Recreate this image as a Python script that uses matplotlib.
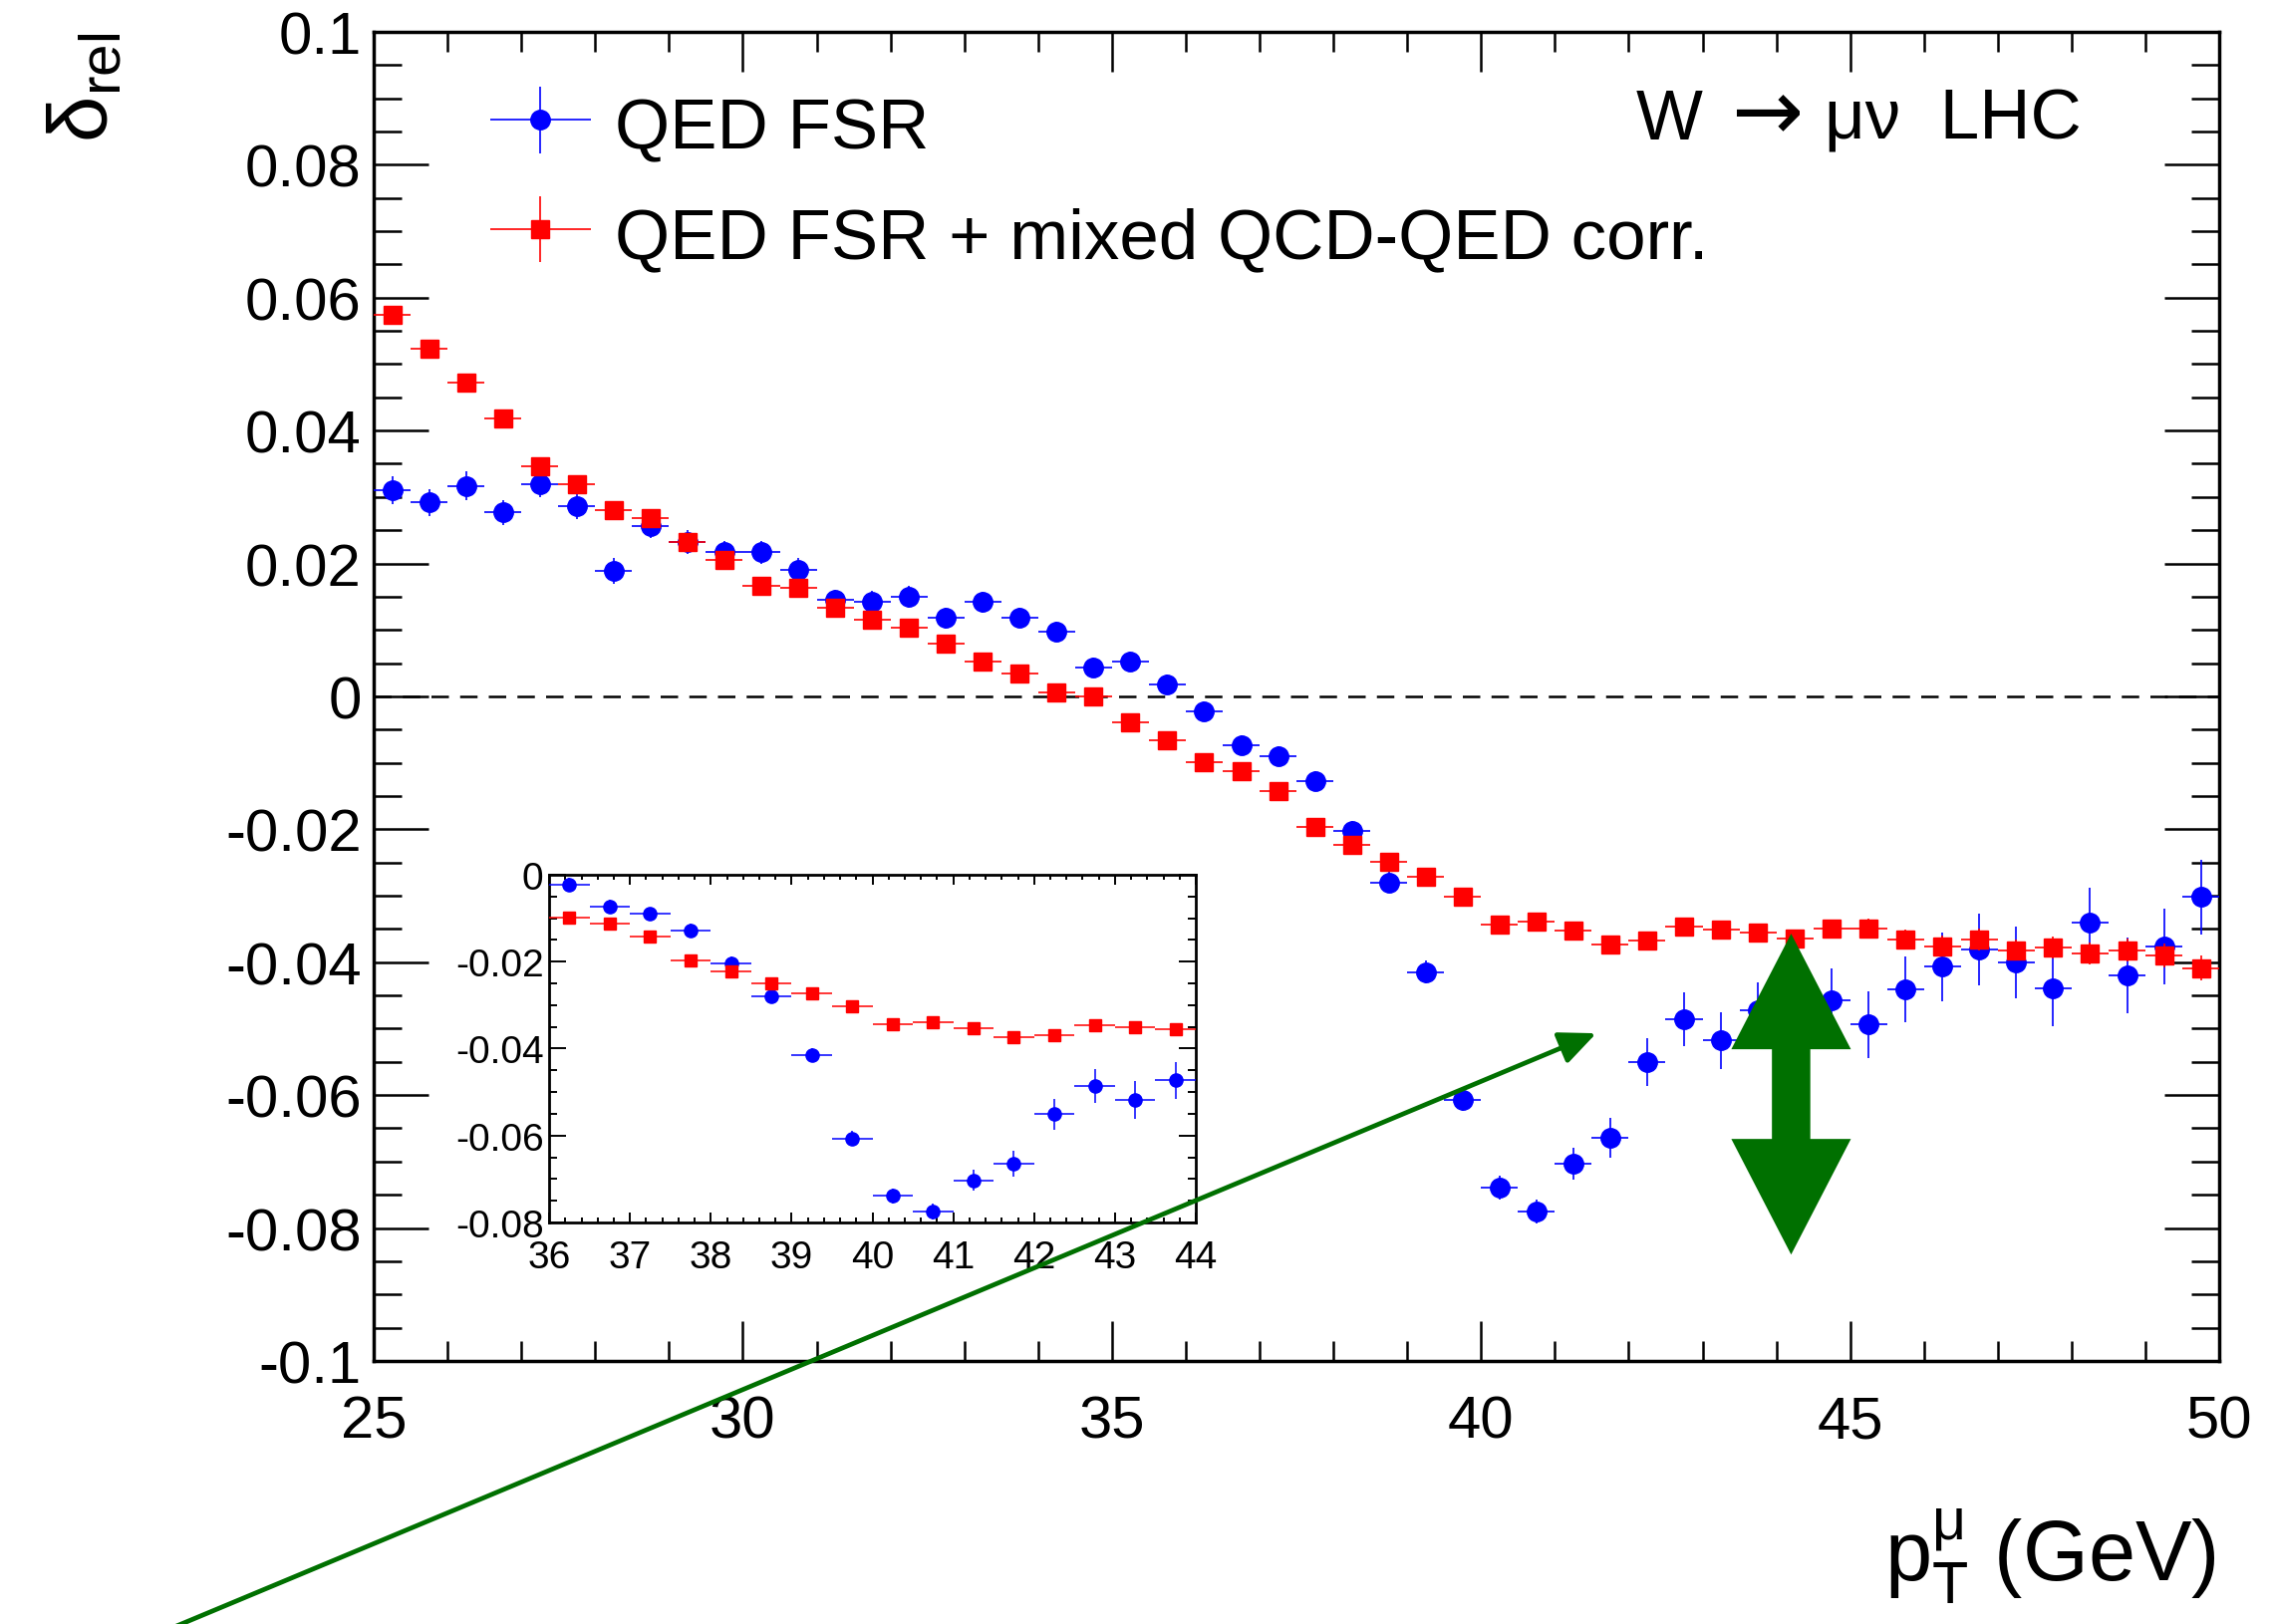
import numpy as np
import matplotlib
matplotlib.use('Agg')
import matplotlib.pyplot as plt
from matplotlib.ticker import MultipleLocator, FuncFormatter
from matplotlib.patches import FancyArrowPatch, Polygon
from matplotlib.legend_handler import HandlerErrorbar
from matplotlib.container import ErrorbarContainer

plt.rcParams['font.family'] = ['Liberation Sans', 'DejaVu Sans']
plt.rcParams['axes.unicode_minus'] = False
plt.rcParams['mathtext.fontset'] = 'custom'
plt.rcParams['mathtext.rm'] = 'Liberation Sans'
plt.rcParams['mathtext.it'] = 'Liberation Sans:italic'
plt.rcParams['mathtext.bf'] = 'Liberation Sans:bold'

# bin centres (0.5 GeV bins from 25 to 50 GeV)
pt = [25.25, 25.75, 26.25, 26.75, 27.25, 27.75, 28.25, 28.75, 29.25, 29.75,
      30.25, 30.75, 31.25, 31.75, 32.25, 32.75, 33.25, 33.75, 34.25, 34.75,
      35.25, 35.75, 36.25, 36.75, 37.25, 37.75, 38.25, 38.75, 39.25, 39.75,
      40.25, 40.75, 41.25, 41.75, 42.25, 42.75, 43.25, 43.75, 44.25, 44.75,
      45.25, 45.75, 46.25, 46.75, 47.25, 47.75, 48.25, 48.75, 49.25, 49.75]
pt_err = 0.25

# QED FSR
qed = [0.0311, 0.0292, 0.0317, 0.0277, 0.0320, 0.0286, 0.0189, 0.0257, 0.0232, 0.0217,
       0.0217, 0.0191, 0.0145, 0.0143, 0.0150, 0.0118, 0.0142, 0.0119, 0.0098, 0.0043,
       0.0053, 0.0018, -0.0022, -0.0073, -0.0090, -0.0128, -0.0203, -0.0280, -0.0415, -0.0607,
       -0.0739, -0.0775, -0.0703, -0.0664, -0.0551, -0.0486, -0.0518, -0.0473, -0.0440, -0.0457,
       -0.0494, -0.0441, -0.0407, -0.0381, -0.0400, -0.0439, -0.0341, -0.0420, -0.0377, -0.0302]
qed_err = [0.0021, 0.0020, 0.0021, 0.0019, 0.0020, 0.0019, 0.0019, 0.0018, 0.0018, 0.0017,
           0.0017, 0.0017, 0.0016, 0.0016, 0.0016, 0.0016, 0.0016, 0.0015, 0.0015, 0.0015,
           0.0015, 0.0015, 0.0015, 0.0015, 0.0015, 0.0015, 0.0016, 0.0016, 0.0017, 0.0017,
           0.0018, 0.0018, 0.0024, 0.0030, 0.0036, 0.0040, 0.0043, 0.0042, 0.0045, 0.0047,
           0.0050, 0.0050, 0.0052, 0.0054, 0.0054, 0.0058, 0.0053, 0.0057, 0.0057, 0.0056]

# QED FSR + mixed QCD-QED
mixed = [0.0574, 0.0523, 0.0472, 0.0418, 0.0346, 0.0320, 0.0281, 0.0269, 0.0232, 0.0205,
         0.0166, 0.0163, 0.0134, 0.0116, 0.0103, 0.0079, 0.0053, 0.0035, 0.0006, 0.0000,
         -0.0039, -0.0066, -0.0099, -0.0113, -0.0142, -0.0197, -0.0223, -0.0249, -0.0272, -0.0302,
         -0.0343, -0.0339, -0.0353, -0.0373, -0.0368, -0.0347, -0.0351, -0.0356, -0.0365, -0.0350,
         -0.0350, -0.0366, -0.0376, -0.0366, -0.0382, -0.0378, -0.0387, -0.0382, -0.0390, -0.0409]
mixed_err = [0.0008, 0.0008, 0.0008, 0.0008, 0.0008, 0.0008, 0.0008, 0.0008, 0.0008, 0.0008,
             0.0008, 0.0008, 0.0008, 0.0008, 0.0008, 0.0008, 0.0008, 0.0008, 0.0008, 0.0008,
             0.0009, 0.0009, 0.0009, 0.0009, 0.0009, 0.0010, 0.0010, 0.0010, 0.0010, 0.0011,
             0.0011, 0.0011, 0.0012, 0.0012, 0.0012, 0.0013, 0.0013, 0.0013, 0.0014, 0.0014,
             0.0015, 0.0015, 0.0016, 0.0016, 0.0016, 0.0017, 0.0017, 0.0017, 0.0018, 0.0019]

green = '#007000'


def yfmt(v, pos):
    if abs(v) < 1e-9:
        return '0'
    return '%g' % v


fig = plt.figure(figsize=(22.8, 16.31), dpi=100)
ax = fig.add_axes([0.1645, 0.1619, 0.8123, 0.8179])

ax.axhline(0, color='black', lw=1.8, ls=(0, (7, 4.5)), zorder=1)
h1 = ax.errorbar(pt, qed, xerr=pt_err, yerr=qed_err, fmt='o', color='blue',
                 ms=14, elinewidth=1.2, capsize=0, label='QED FSR', zorder=3)
h2 = ax.errorbar(pt, mixed, xerr=pt_err, yerr=mixed_err, fmt='s', color='red',
                 ms=13, elinewidth=1.2, capsize=0,
                 label='QED FSR + mixed QCD-QED corr.', zorder=4)

ax.set_xlim(25, 50)
ax.set_ylim(-0.1, 0.1)
ax.xaxis.set_major_locator(MultipleLocator(5))
ax.xaxis.set_minor_locator(MultipleLocator(1))
ax.yaxis.set_major_locator(MultipleLocator(0.02))
ax.yaxis.set_minor_locator(MultipleLocator(0.005))
ax.yaxis.set_major_formatter(FuncFormatter(yfmt))
ax.tick_params(which='both', direction='in', top=True, right=True, width=1.8)
ax.tick_params(axis='x', which='major', length=28.8, labelsize=43, pad=24)
ax.tick_params(axis='x', which='minor', length=14.4)
ax.tick_params(axis='y', which='major', length=39.6, labelsize=43, pad=9)
ax.tick_params(axis='y', which='minor', length=20)
for s in ax.spines.values():
    s.set_linewidth(2.5)

ax.legend(handles=[h1, h2], loc='upper left', bbox_to_anchor=(0.2154, 0.9428),
          bbox_transform=fig.transFigure, frameon=False, fontsize=51,
          borderpad=0, borderaxespad=0, handlelength=1.45, handleheight=1.0,
          handletextpad=0.33, labelspacing=0.55, numpoints=1,
          handler_map={ErrorbarContainer: HandlerErrorbar(xerr_size=0.71, yerr_size=0.47)})

# inset zoom
axi = fig.add_axes([0.2417, 0.2471, 0.2846, 0.2140], zorder=5)
axi.errorbar(pt, qed, xerr=pt_err, yerr=qed_err, fmt='o', color='blue',
             ms=9.5, elinewidth=1.1, capsize=0, zorder=3)
axi.errorbar(pt, mixed, xerr=pt_err, yerr=mixed_err, fmt='s', color='red',
             ms=9, elinewidth=1.1, capsize=0, zorder=4)
axi.set_xlim(36, 44)
axi.set_ylim(-0.08, 0)
axi.xaxis.set_major_locator(MultipleLocator(1))
axi.xaxis.set_minor_locator(MultipleLocator(0.2))
axi.yaxis.set_major_locator(MultipleLocator(0.02))
axi.yaxis.set_minor_locator(MultipleLocator(0.005))
axi.yaxis.set_major_formatter(FuncFormatter(yfmt))
axi.tick_params(which='both', direction='in', top=True, right=True, width=1.4)
axi.tick_params(axis='x', which='major', length=7, labelsize=28, pad=12)
axi.tick_params(axis='x', which='minor', length=3.6)
axi.tick_params(axis='y', which='major', length=12, labelsize=28, pad=4)
axi.tick_params(axis='y', which='minor', length=6)
for s in axi.spines.values():
    s.set_linewidth(2)

# axis titles
fig.text(0.0377, 0.9798, r'$\mathregular{\delta_{rel}}$', rotation=90,
         ha='center', va='top', fontsize=60)
fig.text(0.9754, 0.027, r'$\mathregular{p_{T}^{\mu}}$ (GeV)', ha='right',
         va='baseline', fontsize=61)

# process label, arrow drawn in DejaVu (Liberation's arrow is tiny)
fig.text(0.7202, 0.9142, 'W', fontsize=51, va='baseline')
fig.text(0.7776, 0.9142, '\u2192', fontsize=62, va='baseline', ha='center',
         family='DejaVu Sans')
fig.text(0.8030, 0.9142, '\u03bc\u03bd  LHC', fontsize=51, va='baseline')

# green annotations
arr = FancyArrowPatch((21.4, -0.1442), (41.56, -0.0507), transform=ax.transData,
                      arrowstyle='-|>,head_length=0.45,head_width=0.2',
                      mutation_scale=50, lw=3.4, color=green, shrinkA=0, shrinkB=0,
                      zorder=20)
fig.add_artist(arr)

cx, top, bot = 44.2, -0.0357, -0.0840
hw_head, hw_shaft, hl = 0.81, 0.26, 0.0174
verts = [(cx, top), (cx + hw_head, top - hl), (cx + hw_shaft, top - hl),
         (cx + hw_shaft, bot + hl), (cx + hw_head, bot + hl), (cx, bot),
         (cx - hw_head, bot + hl), (cx - hw_shaft, bot + hl),
         (cx - hw_shaft, top - hl), (cx - hw_head, top - hl)]
dbl = Polygon(verts, closed=True, transform=ax.transData, color=green, lw=0, zorder=20)
fig.add_artist(dbl)

fig.savefig('out.png', dpi=100)
